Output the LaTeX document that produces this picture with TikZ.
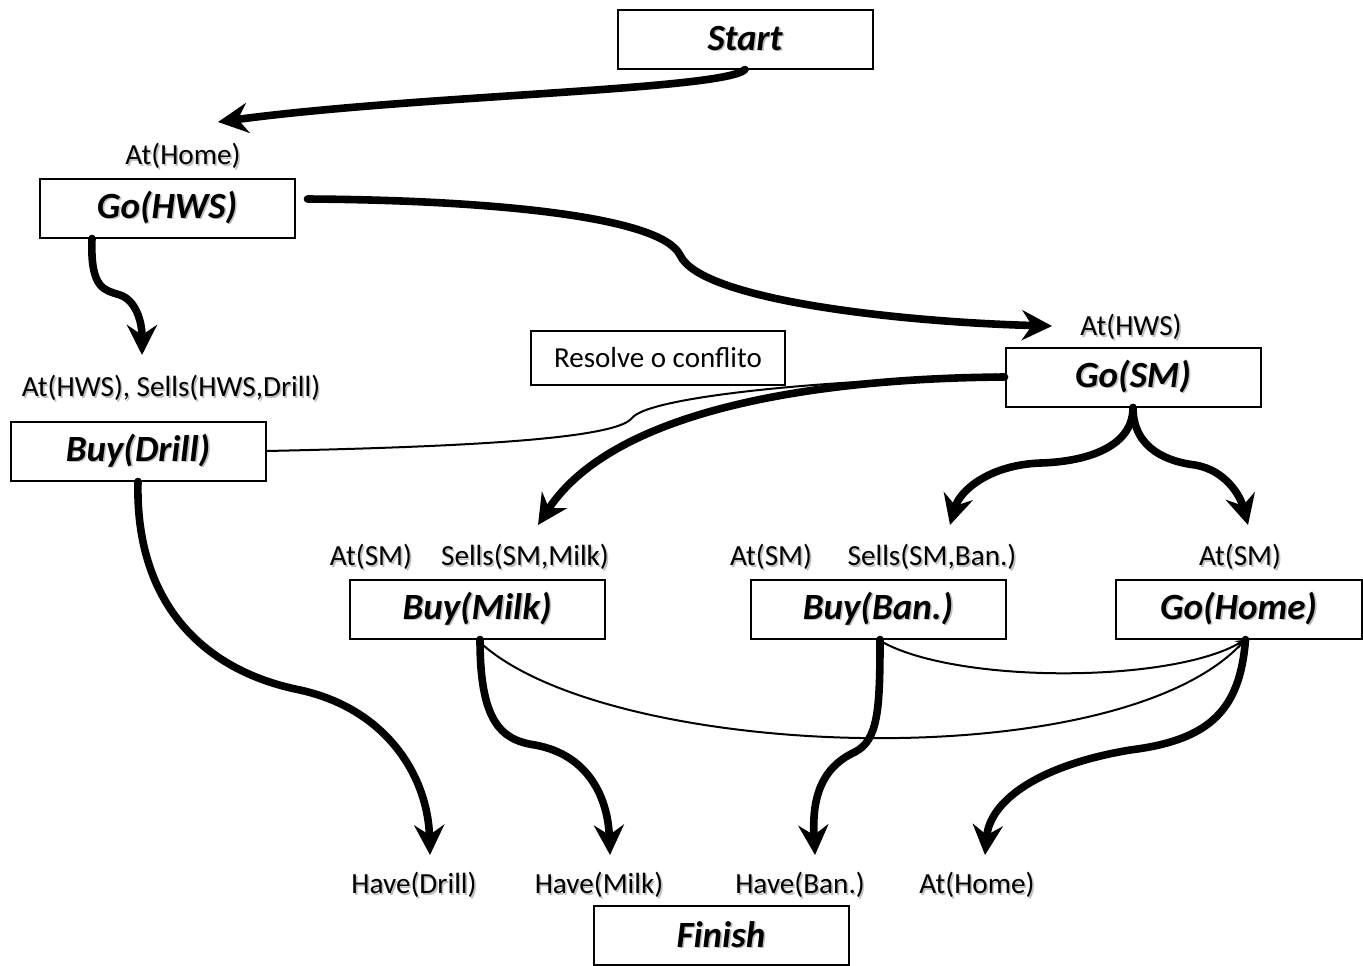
\documentclass[tikz,border=0pt]{standalone}
\usepackage{fontspec}
\setmainfont{Carlito}
\usetikzlibrary{arrows.meta}
\newcommand{\shd}[1]{\leavevmode\rlap{\hspace{0.8pt}\raisebox{-0.8pt}{\textcolor{black!25}{#1}}}#1}

\begin{document}
\begin{tikzpicture}[x=0.5pt, y=-0.5pt,
    act/.style={draw, line width=1pt, minimum width=127.5pt, minimum height=29.5pt, inner sep=0pt,
        font=\fontsize{18.5}{20}\selectfont\bfseries\itshape},
    note/.style={draw, line width=1pt, minimum width=127pt, minimum height=27pt, inner sep=0pt,
        font=\fontsize{14.5}{16}\selectfont},
    lbl/.style={inner sep=0pt, font=\fontsize{14.6}{16}\selectfont},
    big/.style={line width=3.8pt, line cap=round, -{Stealth[length=15pt,width=15pt,inset=5pt]}},
    slim/.style={line width=1pt, -{Stealth[length=5pt,width=4pt]}}]
    \useasboundingbox (0,0) rectangle (1363,965);
    % actions
    \node[act] (start) at (745,39) {\shd{Start}};
    \node[act] (gohws) at (167,208) {\shd{Go(HWS)}};
    \node[act] (buydrill) at (138,451) {\shd{Buy(Drill)}};
    \node[act] (gosm) at (1133,377) {\shd{Go(SM)}};
    \node[act] (buymilk) at (477,609) {\shd{Buy(Milk)}};
    \node[act] (buyban) at (878,609) {\shd{Buy(Ban.)}};
    \node[act, minimum width=123pt] (gohome) at (1238.5,609) {\shd{Go(Home)}};
    \node[act] (finish) at (721,935) {\shd{Finish}};
    \node[note] (resolve) at (658,358) {Resolve o conflito};
    % preconditions
    \node[lbl] (athome) at (183,157) {\shd{At(Home)}};
    \node[lbl] (athwsdrill) at (171,389) {\shd{At(HWS), Sells(HWS,Drill)}};
    \node[lbl] (athws) at (1131,328) {\shd{At(HWS)}};
    \node[lbl] (atsma) at (371,558) {\shd{At(SM)}};
    \node[lbl] (sellsmilk) at (525,558) {\shd{Sells(SM,Milk)}};
    \node[lbl] (atsmb) at (771,558) {\shd{At(SM)}};
    \node[lbl] (sellsban) at (932,558) {\shd{Sells(SM,Ban.)}};
    \node[lbl] (atsmc) at (1240,558) {\shd{At(SM)}};
    \node[lbl] (havedrill) at (414,886) {\shd{Have(Drill)}};
    \node[lbl] (havemilk) at (599,886) {\shd{Have(Milk)}};
    \node[lbl] (haveban) at (800,886) {\shd{Have(Ban.)}};
    \node[lbl] (athomeb) at (977,886) {\shd{At(Home)}};
    % arrow tips
    \coordinate (tipa) at (218,122);
    \coordinate (tipb) at (1052,326);
    \coordinate (tipc) at (142,355);
    \coordinate (tipd) at (430,855);
    \coordinate (tipe) at (538,525);
    \coordinate (tipf) at (950,525);
    \coordinate (tipg) at (1248,525);
    \coordinate (tiph) at (610,855);
    \coordinate (tipi) at (815,855);
    \coordinate (tipj) at (985,855);
    % ordering links
    \draw[slim] (buydrill.east) .. controls (450,447) and (615,440) .. (632,418)
        .. controls (650,395) and (850,378) .. (gosm.west);
    \draw[slim] (buymilk.south) .. controls (600,760) and (1113,780) .. ([xshift=3.5pt]gohome.south);
    \draw[slim] (buyban.south) .. controls (950,684) and (1170,684) .. ([xshift=3.5pt]gohome.south);
    % causal links
    \draw[big] (start.south) .. controls (725,90) and (420,95) .. (tipa);
    \draw[big] ([xshift=6pt,yshift=4.5pt]gohws.east) .. controls (480,200) and (660,215) .. (680,255)
        .. controls (700,300) and (900,322) .. (tipb);
    \draw[big] ([xshift=-37.5pt]gohws.south) .. controls (90,290) and (105,290) .. (120,295)
        .. controls (135,300) and (142,320) .. (tipc);
    \draw[big] (buydrill.south) .. controls (135,600) and (200,670) .. (300,690)
        .. controls (390,710) and (428,780) .. (tipd);
    \draw[big] (gosm.west) .. controls (850,378) and (620,400) .. (tipe);
    \draw[big] (gosm.south) .. controls (1133,450) and (1080,462) .. (1040,463)
        .. controls (990,465) and (960,490) .. (tipf);
    \draw[big] (gosm.south) .. controls (1133,450) and (1170,462) .. (1195,465)
        .. controls (1225,470) and (1240,495) .. (tipg);
    \draw[big] ([xshift=1.5pt]buymilk.south) .. controls (480,720) and (500,740) .. (535,745)
        .. controls (590,755) and (608,800) .. (tiph);
    \draw[big] ([xshift=1pt]buyban.south) .. controls (880,710) and (878,740) .. (855,752)
        .. controls (820,768) and (812,800) .. (tipi);
    \draw[big] ([xshift=3.5pt]gohome.south) .. controls (1240,710) and (1210,740) .. (1130,750)
        .. controls (1040,765) and (990,800) .. (tipj);
\end{tikzpicture}
\end{document}
